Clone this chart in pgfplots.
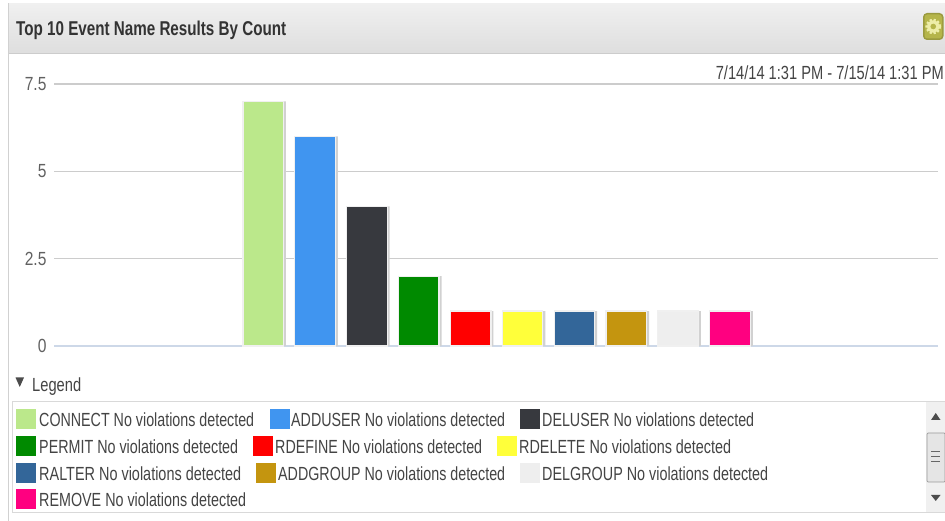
\documentclass[border=0pt]{standalone}
\usepackage{pgfplots}
\pgfplotsset{compat=1.18}
\usepackage{fontspec}
\setmainfont{Liberation Sans}
\definecolor{cConnect}{HTML}{BBE88B}
\definecolor{cAdduser}{HTML}{4095F0}
\definecolor{cDeluser}{HTML}{37393E}
\definecolor{cPermit}{HTML}{008A00}
\definecolor{cRdefine}{HTML}{FF0000}
\definecolor{cRdelete}{HTML}{FFFF3A}
\definecolor{cRalter}{HTML}{336699}
\definecolor{cAddgroup}{HTML}{C4950F}
\definecolor{cDelgroup}{HTML}{EEEEEE}
\definecolor{cRemove}{HTML}{FF0080}
\definecolor{txt}{HTML}{444444}
\definecolor{gearD}{HTML}{B5B54A}
\definecolor{gearL}{HTML}{EDEDA8}
\newcommand\W[2]{\resizebox{#1pt}{\height}{#2}}
\newcommand\LegItem[6]{%
  \fill[#3] (#1pt,521pt-#2pt) rectangle (#1pt+20pt,521pt-#2pt-20pt);
  \node[anchor=base west,inner sep=0pt,text=txt,font=\fontsize{19}{21}\selectfont] at (#4pt,521pt-#2pt-17.5pt) {\W{#5}{#6}};
}
\begin{document}
\begin{tikzpicture}[x=1pt,y=1pt]
\path[use as bounding box] (0,0) rectangle (945pt,521pt);
\fill[white] (0,0) rectangle (945pt,521pt);
% panel
\draw[line width=1pt,color=black!18] (8.5pt,0) -- (8.5pt,517.5pt) -- (945pt,517.5pt);
\shade[top color=black!6,bottom color=black!13] (9pt,467pt) rectangle (945pt,517pt);
\draw[line width=1pt,color=black!20] (9pt,467pt) -- (945pt,467pt);
\node[anchor=base west,inner sep=0pt,text=black!80,font=\fontsize{20}{22}\selectfont\bfseries] at (16pt,485pt) {\W{270}{Top 10 Event Name Results By Count}};
% gear
\fill[rounded corners=4pt,fill=gearD!85!black] (923pt,481pt) rectangle (943.5pt,508pt);
\fill[rounded corners=3pt,fill=gearD] (924.5pt,482.5pt) rectangle (942pt,506.5pt);
\draw[gearL,line width=2.4pt,dash pattern=on 2.2pt off 1.7pt] (933.25pt,494.5pt) circle (6.6pt);
\fill[gearL] (933.25pt,494.5pt) circle (6.2pt);
\fill[gearD] (933.25pt,494.5pt) circle (2.8pt);
% date
\node[anchor=base east,inner sep=0pt,text=txt,font=\fontsize{19}{21}\selectfont] at (944pt,441pt) {\W{228}{7/14/14 1:31 PM - 7/15/14 1:31 PM}};
\begin{axis}[
  at={(54pt,175pt)},anchor=south west,
  scale only axis,width=884pt,height=262pt,
  xmin=-4.033,xmax=13.01,ymin=0,ymax=7.5,
  clip=false,
  ytick={2.5,5,7.5},xtick=\empty,
  extra y ticks={0},
  extra y tick style={ymajorgrids=false},
  major tick length=0pt,
  ymajorgrids,
  grid style={line width=1.6pt,color=black!20},
  axis x line*=bottom,axis y line*=left,
  y axis line style={draw=none},
  x axis line style={draw={rgb,255:red,205;green,216;blue,232},line width=2pt,-},
  /pgf/number format/assume math mode=true,
  tick label style={font=\fontsize{19}{21}\selectfont,text=black!62},
  yticklabel={\scalebox{0.82}[1]{\pgfmathprintnumber{\tick}}},
  yticklabel style={xshift=-4pt},
  every axis plot/.append style={ybar,bar width=40.5pt,bar shift=0pt,line width=1.2pt,draw={rgb,255:red,240;green,240;blue,240}},
]
\addplot[bar shift=2.5pt,fill=black!18,draw=none,forget plot] coordinates {(0,7)(1,6)(2,4)(3,2)(4,1)(5,1)(6,1)(7,1)(8,1)(9,1)};
\addplot[fill=cConnect] coordinates {(0,7)};
\addplot[fill=cAdduser] coordinates {(1,6)};
\addplot[fill=cDeluser] coordinates {(2,4)};
\addplot[fill=cPermit] coordinates {(3,2)};
\addplot[fill=cRdefine] coordinates {(4,1)};
\addplot[fill=cRdelete] coordinates {(5,1)};
\addplot[fill=cRalter] coordinates {(6,1)};
\addplot[fill=cAddgroup] coordinates {(7,1)};
\addplot[fill=cDelgroup] coordinates {(8,1)};
\addplot[fill=cRemove] coordinates {(9,1)};
\end{axis}
% legend heading
\fill[black!70] (15.5pt,521pt-377.5pt) -- (24pt,521pt-377.5pt) -- (19.75pt,521pt-387pt) -- cycle;
\node[anchor=base west,inner sep=0pt,text=txt,font=\fontsize{19}{21}\selectfont] at (32pt,129.5pt) {\W{49}{Legend}};
% legend box
\draw[line width=1pt,color=black!15] (12.5pt,521pt-402pt) rectangle (945.5pt,521pt-512.5pt);
\fill[black!6] (926pt,521pt-402.5pt) rectangle (945pt,521pt-512pt);
\fill[black!10,draw=black!40,rounded corners=1pt,line width=.7pt] (927pt,521pt-433pt) rectangle (945pt,521pt-482pt);
\draw[black!60,line width=1pt] (931pt,521pt-452pt) -- (940pt,521pt-452pt) (931pt,521pt-457pt) -- (940pt,521pt-457pt) (931pt,521pt-462pt) -- (940pt,521pt-462pt);
\fill[black!70] (931pt,521pt-420pt) -- (940.5pt,521pt-420pt) -- (935.75pt,521pt-413pt) -- cycle;
\fill[black!70] (931pt,521pt-495pt) -- (940.5pt,521pt-495pt) -- (935.75pt,521pt-501pt) -- cycle;
% legend entries
\LegItem{16}{409.5}{cConnect}{39}{215}{CONNECT No violations detected}
\LegItem{269.5}{409.5}{cAdduser}{291}{214}{ADDUSER No violations detected}
\LegItem{520}{409.5}{cDeluser}{542}{212}{DELUSER No violations detected}
\LegItem{16}{436}{cPermit}{39}{199}{PERMIT No violations detected}
\LegItem{253}{436}{cRdefine}{275}{207}{RDEFINE No violations detected}
\LegItem{497}{436}{cRdelete}{519}{212}{RDELETE No violations detected}
\LegItem{16}{463}{cRalter}{39}{202}{RALTER No violations detected}
\LegItem{256}{463}{cAddgroup}{278}{227}{ADDGROUP No violations detected}
\LegItem{520}{463}{cDelgroup}{542}{226}{DELGROUP No violations detected}
\LegItem{16}{489.5}{cRemove}{39}{207}{REMOVE No violations detected}
\end{tikzpicture}
\end{document}
